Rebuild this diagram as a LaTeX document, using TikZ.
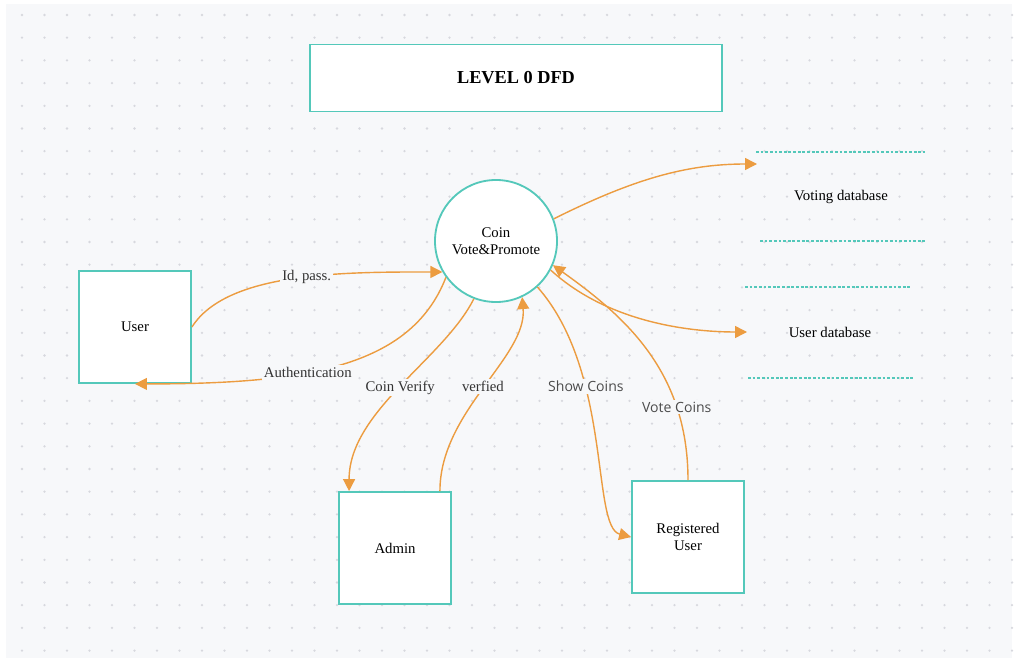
\documentclass[tikz,border=0pt]{standalone}
\usepackage{fontspec}
\setmainfont{Liberation Serif}
\newfontfamily\labelsans{Open Sans}
\usetikzlibrary{arrows.meta, positioning, calc}
\definecolor{bgpage}{RGB}{247,248,250}
\definecolor{griddot}{RGB}{215,216,222}
\definecolor{tealline}{RGB}{84,200,186}
\definecolor{flow}{RGB}{236,156,64}
\tikzset{
	entity/.style={draw=tealline, line width=1.3pt, fill=white, minimum width=2.8cm, minimum height=2.8cm, align=center, font=\fontsize{10.5}{12}\selectfont},
	process/.style={circle, draw=tealline, line width=1.3pt, fill=white, minimum size=3.05cm, align=center, font=\fontsize{10.5}{12}\selectfont},
	flowline/.style={draw=flow, line width=1pt, -{Triangle[length=8.5pt,width=8.5pt]}},
	flowlabel/.style={fill=bgpage, inner sep=1.5pt, text=black!80, font=\fontsize{10.5}{12}\selectfont},
	sanslabel/.style={flowlabel, font=\labelsans\fontsize{10}{12}\selectfont, text=black!70},
	storeline/.style={draw=tealline, line width=1.3pt, dash pattern=on 2pt off 1.3pt},
}
\begin{document}
\begin{tikzpicture}[x=0.025cm, y=-0.025cm]
	\useasboundingbox (0,0) rectangle (1016,662);
	% Page and dot grid
	\fill[bgpage] (6,4) rectangle (1012,658);
	\foreach \i in {0,...,44}
		\foreach \j in {0,...,28}
			\fill[griddot] (22+22.5*\i, 15+22.7*\j) circle (0.9pt);

	% Title
	\node[draw=tealline, line width=1.3pt, fill=white, minimum width=10.3cm, minimum height=1.675cm, font=\bfseries\fontsize{13}{15}\selectfont] (title) at (516,78) {LEVEL 0 DFD};

	% Process and entities
	\node[process] (proc) at (496,241) {Coin\\Vote\&Promote};
	\node[entity] (user) at (135,327) {User};
	\node[entity] (admin) at (395,548) {Admin};
	\node[entity] (reg) at (688,537) {Registered\\User};

	% Data stores
	\draw[storeline] (756,152) -- (925,152);
	\draw[storeline] (760,241) -- (927,241);
	\node[font=\fontsize{10.5}{12}\selectfont] (votedb) at (841,197) {Voting database};
	\coordinate (vdbin) at (757,164);
	\draw[storeline] (745,287) -- (912,287);
	\draw[storeline] (748,378) -- (915,378);
	\node[font=\fontsize{10.5}{12}\selectfont] (userdb) at (830,332) {User database};
	\coordinate (udbin) at (747,332);

	% Flows
	\draw[flowline] (proc.21) .. controls +(80,-40) and +(-70,0) .. (vdbin);
	\draw[flowline] (user.east) .. controls +(35,-55) and +(-100,0) .. node[flowlabel, pos=0.55] (idpass) {Id, pass.} (proc.210);
	\draw[flowline] (proc.216) .. controls +(-35,90) and +(170,0) .. node[flowlabel, pos=0.6] (auth) {Authentication} (user.south);
	\draw[flowline] (proc.249) .. controls +(-30,60) and +(0,-80) .. node[flowlabel, pos=0.5] (cverify) {Coin Verify} ($(admin.north west)+(11,0)$);
	\draw[flowline] ($(admin.north east)+(-12,0)$) .. controls +(0,-80) and +(5,60) .. node[flowlabel, pos=0.5] (verf) {verfied} (proc.295);
	\draw[flowline] (proc.312) .. controls +(75,85) and +(-40,-10) .. node[sanslabel, pos=0.33] (show) {Show Coins} (reg.west);
	\draw[flowline] (reg.north) .. controls +(0,-110) and +(70,50) .. node[sanslabel, pos=0.25] (vote) {Vote Coins} (proc.337);
	\draw[flowline] (proc.332) .. controls +(60,55) and +(-50,0) .. (udbin);
\end{tikzpicture}
\end{document}
